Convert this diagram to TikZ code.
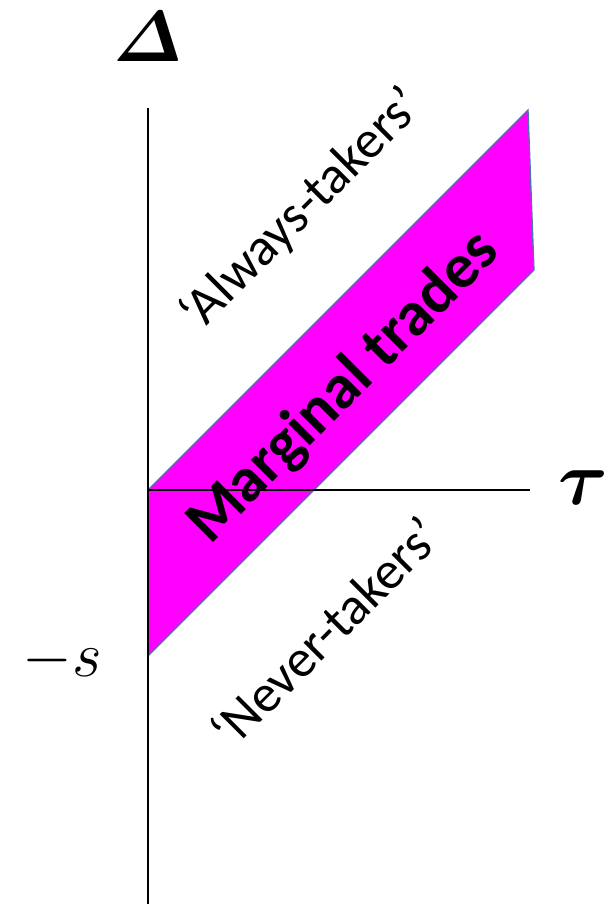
\RequirePackage{fix-cm}
\documentclass[tikz,border=0pt]{standalone}
\usepackage{amsmath}
\usepackage{fontspec}
\setmainfont{Carlito}
\begin{document}
\begin{tikzpicture}[x=1pt,y=-1pt,
  axis/.style={line width=2.2pt,black},
  band/.style={fill={rgb,255:red,255;green,0;blue,255},draw={rgb,255:red,70;green,120;blue,170},line width=1.3pt,line join=miter},
  side/.style={font=\fontsize{53}{56}\selectfont,rotate=45},
  big/.style={font=\fontsize{63}{66}\selectfont\bfseries,rotate=45},
  sym/.style={font=\fontsize{#1}{#1}\selectfont\boldmath}]
\useasboundingbox (0,0) rectangle (613,904);
\coordinate (O) at (148,490);
\coordinate (Ytop) at (148,108);
\coordinate (Ybot) at (148,904);
\coordinate (Xend) at (530,490);
\coordinate (A) at (528,110);
\coordinate (B) at (534,270);
\coordinate (C) at (148,656);
\draw[band] (O) -- (A) -- (B) -- (C) -- cycle;
\draw[axis] (Ytop) -- (Ybot);
\draw[axis] (O) -- (Xend);
\node[sym=72] (delta) at (148,37) {$\varDelta$};
\node[sym=76] (tau) at (583,488) {$\tau$};
\node[font=\fontsize{64}{64}\selectfont] (s) at (62,660) {$-s$};
\node[side] (always) at (302,210) {‘Always-takers’};
\node[big] (marg) at (344,388) {Marginal trades};
\node[side] (never) at (325,632) {‘Never-takers’};
\end{tikzpicture}
\end{document}
